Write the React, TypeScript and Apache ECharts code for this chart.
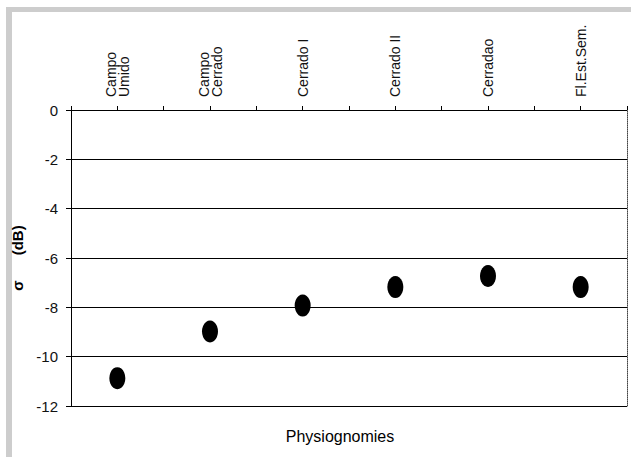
import React, { useEffect, useRef } from "react";
import * as echarts from "echarts";

const categories = ["Campo\nUmido", "Campo\nCerrado", "Cerrado I", "Cerrado II", "Cerradao", "Fl.Est.Sem."];
const sigmaValues = [-10.87, -8.98, -7.93, -7.18, -6.73, -7.18];
const yMin = -12;
const yMax = 0;
const yStep = 2;
const yTitle = "σ      (dB)";
const xTitle = "Physiognomies";

export default function App() {
  const ref = useRef<HTMLDivElement>(null);
  useEffect(() => {
    document.body.style.margin = "0";
    if (!ref.current) return;
    const chart = echarts.init(ref.current, undefined, { renderer: "svg" });
    const font = "Liberation Sans, Arial, Helvetica, sans-serif";
    chart.setOption({
      animation: false,
      backgroundColor: "#fff",
      grid: { left: 71, top: 110, right: 4, bottom: 51, containLabel: false },
      xAxis: [
        {
          type: "category",
          data: categories,
          position: "top",
          boundaryGap: true,
          axisLine: { show: true, onZero: false, lineStyle: { color: "#000", width: 1 } },
          axisTick: { show: true, alignWithLabel: true, length: 4, lineStyle: { color: "#000" } },
          axisLabel: { rotate: -90, margin: 13, fontSize: 14, lineHeight: 13, fontFamily: font, color: "#111" },
          splitLine: { show: false },
        },
        {
          type: "category",
          data: categories,
          position: "top",
          boundaryGap: true,
          axisLine: { show: false, onZero: false },
          axisTick: { show: true, length: 4, lineStyle: { color: "#000" } },
          axisLabel: { show: false },
          splitLine: { show: false },
        },
      ],
      yAxis: [
        {
          type: "value",
          min: yMin,
          max: yMax,
          interval: yStep,
          position: "left",
          axisLine: { show: true, onZero: false, lineStyle: { color: "#000" } },
          axisTick: { show: true, length: 5, lineStyle: { color: "#000" } },
          axisLabel: { margin: 13, fontSize: 15, fontFamily: font, color: "#111" },
          splitLine: { show: true, lineStyle: { color: "#000", width: 1 } },
          name: yTitle,
          nameLocation: "middle",
          nameRotate: 90,
          nameGap: 40,
          nameTextStyle: { fontWeight: "bold", fontSize: 15, fontFamily: font, color: "#000" },
        },
        {
          type: "value",
          min: yMin,
          max: yMax,
          interval: yStep,
          position: "right",
          axisLine: { show: true, onZero: false, lineStyle: { color: "#444", type: "dotted" } },
          axisTick: { show: false },
          axisLabel: { show: false },
          splitLine: { show: false },
        },
      ],
      series: [
        {
          type: "scatter",
          xAxisIndex: 0,
          yAxisIndex: 0,
          data: sigmaValues,
          symbol: "circle",
          symbolSize: [16, 22],
          itemStyle: { color: "#000", opacity: 1 },
        },
      ],
      graphic: [
        { type: "rect", shape: { x: 6, y: 7, width: 625, height: 5 }, style: { fill: "#cdcdcd" } },
        { type: "rect", shape: { x: 6, y: 7, width: 6, height: 450 }, style: { fill: "#cdcdcd" } },
        {
          type: "text",
          x: 340,
          y: 436,
          style: { text: xTitle, fontSize: 16, fontFamily: font, fill: "#000", textAlign: "center", textVerticalAlign: "middle" },
        },
      ],
    });
    return () => chart.dispose();
  }, []);
  return <div ref={ref} style={{ position: "absolute", left: 0, top: 0, width: 631, height: 457 }} />;
}
